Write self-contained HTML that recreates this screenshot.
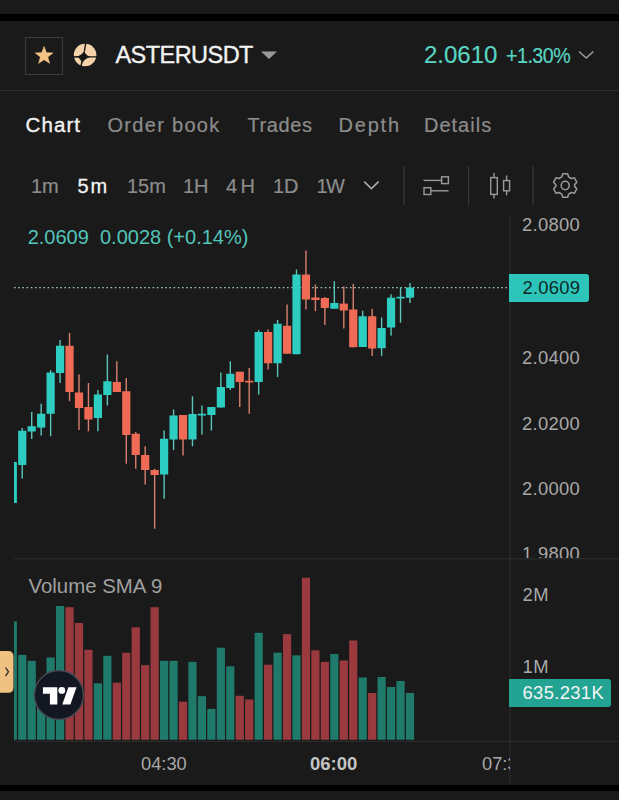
<!DOCTYPE html>
<html><head><meta charset="utf-8">
<style>
*{margin:0;padding:0;box-sizing:border-box}
html,body{width:619px;height:800px;overflow:hidden;background:#1a1a1a}
body{position:relative;font-family:"Liberation Sans",sans-serif;color:#8a8a8a}
.a{position:absolute;white-space:nowrap}
.blk{position:absolute;left:0;width:619px;background:#000}
.hl{position:absolute;height:1px;background:#333}
.vl{position:absolute;width:1px;background:#303030}
.t{position:absolute;white-space:nowrap;line-height:1}
.m{-webkit-text-stroke:0.2px currentColor}
.w{-webkit-text-stroke:0.35px currentColor}
</style></head>
<body>
<div class="blk" style="top:14px;height:7px"></div>

<!-- header -->
<div class="a" style="left:25px;top:37px;width:38px;height:38px;border:1px solid #3c3c3c"></div>
<svg class="a" style="left:0;top:0" width="619" height="90" viewBox="0 0 619 90">
  <!-- star -->
  <path d="M44.10 46.50 L46.40 52.64 L52.94 52.93 L47.81 57.01 L49.57 63.32 L44.10 59.71 L38.63 63.32 L40.39 57.01 L35.26 52.93 L41.80 52.64 Z" fill="#f4c388" stroke="#f4c388" stroke-width="0.6" stroke-linejoin="round"/>
  <!-- logo -->
  <circle cx="85.1" cy="55.05" r="11.25" fill="#f6d3aa"/>
  <path d="M84.4 50.6 Q85.2 55.4 90.2 56.9 Q84.5 58.6 81.8 63.8 Q81.2 58.6 76.4 56.8 Q81.85 55.4 84.4 50.6Z" fill="#161616"/>
  <path d="M85.8 43.2 L84.4 51.2 M81.9 62 L80.8 67 M73.3 57 L78 56.8 M88 56.9 L97 56.9" stroke="#161616" stroke-width="1.4" fill="none"/>
  <!-- dropdown triangle -->
  <path d="M261 51.5 L277 51.5 L269 59 Z" fill="#9a9a9a"/>
  <!-- chevron -->
  <path d="M579 51.5 L586.2 58 L593.4 51.5" stroke="#9a9a9a" stroke-width="1.6" fill="none"/>
</svg>
<div class="t w" id="sym" style="left:115.5px;top:44.3px;font-size:23.5px;letter-spacing:-0.55px;color:#f2f2f2">ASTERUSDT</div>
<div class="t m" id="px" style="left:424px;top:43px;font-size:24px;color:#58d4c2">2.0610</div>
<div class="t m" id="pc" style="left:505.5px;top:44.5px;font-size:22px;letter-spacing:-0.6px;transform:scaleX(0.895);transform-origin:0 0;color:#58d4c2">+1.30%</div>

<div class="hl" style="left:0;top:90px;width:619px;background:#303030"></div>

<!-- tabs -->
<div class="t w" style="left:25.5px;top:114.5px;font-size:20.5px;letter-spacing:1.1px;color:#f2f2f2">Chart</div>
<div class="t m" style="left:107.5px;top:114.6px;font-size:20px;letter-spacing:1.3px;color:#8c8c8c">Order book</div>
<div class="t m" style="left:247.5px;top:114.6px;font-size:20px;letter-spacing:0.6px;color:#8c8c8c">Trades</div>
<div class="t m" style="left:338.5px;top:114.6px;font-size:20px;letter-spacing:1.8px;color:#8c8c8c">Depth</div>
<div class="t m" style="left:424px;top:114.6px;font-size:20px;letter-spacing:1px;color:#8c8c8c">Details</div>

<!-- timeframes -->
<div class="t m" style="left:31px;top:176px;font-size:20px;color:#8c8c8c">1m</div>
<div class="t m" style="left:77.5px;top:176px;font-size:20px;letter-spacing:2px;-webkit-text-stroke:0.3px #f2f2f2;color:#f2f2f2">5m</div>
<div class="t m" style="left:127px;top:176px;font-size:20px;color:#8c8c8c">15m</div>
<div class="t m" style="left:183px;top:176px;font-size:20px;color:#8c8c8c">1H</div>
<div class="t m" style="left:226px;top:176px;font-size:20px;letter-spacing:3.5px;color:#8c8c8c">4H</div>
<div class="t m" style="left:273px;top:176px;font-size:20px;color:#8c8c8c">1D</div>
<div class="t m" style="left:316.5px;top:176px;font-size:20px;letter-spacing:-1.5px;color:#8c8c8c">1W</div>
<svg class="a" style="left:0;top:160px" width="619" height="50" viewBox="0 160 619 50">
  <path d="M364.2 181.6 L371.4 188.6 L378.6 181.6" stroke="#a8a8a8" stroke-width="1.7" fill="none"/>
  <rect x="403.5" y="166.5" width="1.2" height="38.5" fill="#3a3a3a"/>
  <rect x="468" y="166.5" width="1.2" height="38.5" fill="#3a3a3a"/>
  <rect x="532.5" y="166.5" width="1.2" height="38.5" fill="#3a3a3a"/>
  <!-- sliders icon -->
  <g stroke="#9a9a9a" stroke-width="1.4" fill="none">
    <path d="M423.5 180.4 L441.6 180.4"/>
    <rect x="441.6" y="176.8" width="6.8" height="6.8"/>
    <rect x="424" y="187.7" width="6.8" height="6.8"/>
    <path d="M430.8 190.8 L448.6 190.8"/>
    <!-- candles icon -->
    <path d="M494 172.8 L494 177.6 M494 194.4 L494 198.4"/>
    <rect x="490.7" y="177.6" width="6.6" height="16.8"/>
    <path d="M506.6 175.4 L506.6 180.6 M506.6 190.8 L506.6 195.2"/>
    <rect x="503.6" y="180.6" width="6" height="10.2"/>
  </g>
  <!-- gear -->
  <g transform="translate(565.2 185.5) scale(0.95 1)" stroke="#9a9a9a" stroke-width="1.6" fill="none">
    <path d="M-2.6 -11.8 L2.6 -11.8 L3.6 -8.6 L6.4 -7 L9.6 -7.8 L12.2 -3.3 L9.9 -0.9 L9.9 0.9 L12.2 3.3 L9.6 7.8 L6.4 7 L3.6 8.6 L2.6 11.8 L-2.6 11.8 L-3.6 8.6 L-6.4 7 L-9.6 7.8 L-12.2 3.3 L-9.9 0.9 L-9.9 -0.9 L-12.2 -3.3 L-9.6 -7.8 L-6.4 -7 L-3.6 -8.6 Z" stroke-linejoin="round"/>
    <circle cx="0" cy="0" r="4.2"/>
  </g>
</svg>

<!-- chart -->
<svg class="a" style="left:0;top:0" width="619" height="800" viewBox="0 0 619 800">
  <defs><clipPath id="cp"><rect x="14" y="210" width="496" height="530"/></clipPath></defs>
  <rect x="509.5" y="216" width="1" height="568" fill="#2e2e2e"/>
  <rect x="14" y="558.3" width="605" height="1" fill="#2e2e2e"/>
  <rect x="14" y="740.8" width="605" height="1" fill="#2e2e2e"/>
  <line x1="14" y1="287.6" x2="510" y2="287.6" stroke="#9cc6c2" stroke-width="1.1" stroke-dasharray="1.6 2.6"/>
  <g clip-path="url(#cp)">
<rect x="12.09" y="462.00" width="1.4" height="41.00" fill="#5cc4bb"/>
<rect x="8.69" y="462.00" width="8.2" height="41.00" fill="#2dcdc2"/>
<rect x="21.55" y="428.00" width="1.4" height="50.50" fill="#5cc4bb"/>
<rect x="18.15" y="430.75" width="8.2" height="34.25" fill="#2dcdc2"/>
<rect x="31.01" y="412.00" width="1.4" height="27.00" fill="#5cc4bb"/>
<rect x="27.61" y="426.25" width="8.2" height="5.25" fill="#2dcdc2"/>
<rect x="40.46" y="403.75" width="1.4" height="31.85" fill="#5cc4bb"/>
<rect x="37.06" y="413.75" width="8.2" height="13.85" fill="#2dcdc2"/>
<rect x="49.92" y="370.00" width="1.4" height="66.30" fill="#5cc4bb"/>
<rect x="46.52" y="372.50" width="8.2" height="41.25" fill="#2dcdc2"/>
<rect x="59.38" y="340.00" width="1.4" height="43.00" fill="#5cc4bb"/>
<rect x="55.98" y="345.75" width="8.2" height="27.25" fill="#2dcdc2"/>
<rect x="68.84" y="333.00" width="1.4" height="68.25" fill="#d8806f"/>
<rect x="65.44" y="345.75" width="8.2" height="46.25" fill="#f06b55"/>
<rect x="78.29" y="374.50" width="1.4" height="55.50" fill="#d8806f"/>
<rect x="74.89" y="392.50" width="8.2" height="15.50" fill="#f06b55"/>
<rect x="87.75" y="383.00" width="1.4" height="48.25" fill="#d8806f"/>
<rect x="84.35" y="407.00" width="8.2" height="12.50" fill="#f06b55"/>
<rect x="97.21" y="390.00" width="1.4" height="41.25" fill="#5cc4bb"/>
<rect x="93.81" y="394.50" width="8.2" height="23.50" fill="#2dcdc2"/>
<rect x="106.66" y="354.50" width="1.4" height="51.00" fill="#5cc4bb"/>
<rect x="103.26" y="381.25" width="8.2" height="13.75" fill="#2dcdc2"/>
<rect x="116.12" y="361.25" width="1.4" height="30.75" fill="#d8806f"/>
<rect x="112.72" y="382.00" width="8.2" height="10.00" fill="#f06b55"/>
<rect x="125.58" y="378.00" width="1.4" height="85.75" fill="#d8806f"/>
<rect x="122.18" y="391.25" width="8.2" height="43.75" fill="#f06b55"/>
<rect x="135.03" y="432.00" width="1.4" height="36.75" fill="#d8806f"/>
<rect x="131.63" y="433.75" width="8.2" height="21.25" fill="#f06b55"/>
<rect x="144.49" y="446.25" width="1.4" height="38.25" fill="#d8806f"/>
<rect x="141.09" y="455.00" width="8.2" height="15.00" fill="#f06b55"/>
<rect x="153.95" y="468.75" width="1.4" height="60.00" fill="#d8806f"/>
<rect x="150.55" y="470.00" width="8.2" height="5.00" fill="#f06b55"/>
<rect x="163.41" y="430.50" width="1.4" height="68.25" fill="#5cc4bb"/>
<rect x="160.01" y="438.75" width="8.2" height="35.75" fill="#2dcdc2"/>
<rect x="172.86" y="409.50" width="1.4" height="40.50" fill="#5cc4bb"/>
<rect x="169.46" y="415.50" width="8.2" height="24.00" fill="#2dcdc2"/>
<rect x="182.32" y="415.00" width="1.4" height="40.50" fill="#d8806f"/>
<rect x="178.92" y="415.00" width="8.2" height="24.50" fill="#f06b55"/>
<rect x="191.78" y="396.25" width="1.4" height="50.00" fill="#5cc4bb"/>
<rect x="188.38" y="414.00" width="8.2" height="25.50" fill="#2dcdc2"/>
<rect x="201.23" y="405.50" width="1.4" height="29.00" fill="#5cc4bb"/>
<rect x="197.83" y="413.75" width="8.2" height="1.75" fill="#2dcdc2"/>
<rect x="210.69" y="407.00" width="1.4" height="23.50" fill="#5cc4bb"/>
<rect x="207.29" y="407.00" width="8.2" height="8.00" fill="#2dcdc2"/>
<rect x="220.15" y="372.50" width="1.4" height="35.00" fill="#5cc4bb"/>
<rect x="216.75" y="387.00" width="8.2" height="20.50" fill="#2dcdc2"/>
<rect x="229.60" y="361.25" width="1.4" height="28.75" fill="#5cc4bb"/>
<rect x="226.20" y="373.75" width="8.2" height="14.25" fill="#2dcdc2"/>
<rect x="239.06" y="371.75" width="1.4" height="35.25" fill="#d8806f"/>
<rect x="235.66" y="371.75" width="8.2" height="10.25" fill="#f06b55"/>
<rect x="248.52" y="368.00" width="1.4" height="45.75" fill="#d8806f"/>
<rect x="245.12" y="380.75" width="8.2" height="1.75" fill="#f06b55"/>
<rect x="257.98" y="330.00" width="1.4" height="64.50" fill="#5cc4bb"/>
<rect x="254.58" y="332.00" width="8.2" height="50.00" fill="#2dcdc2"/>
<rect x="267.43" y="329.50" width="1.4" height="40.00" fill="#d8806f"/>
<rect x="264.03" y="332.00" width="8.2" height="31.25" fill="#f06b55"/>
<rect x="276.89" y="320.00" width="1.4" height="57.00" fill="#5cc4bb"/>
<rect x="273.49" y="323.75" width="8.2" height="39.50" fill="#2dcdc2"/>
<rect x="286.35" y="304.50" width="1.4" height="49.25" fill="#d8806f"/>
<rect x="282.95" y="325.75" width="8.2" height="28.00" fill="#f06b55"/>
<rect x="295.80" y="269.50" width="1.4" height="84.75" fill="#5cc4bb"/>
<rect x="292.40" y="274.50" width="8.2" height="79.75" fill="#2dcdc2"/>
<rect x="305.26" y="250.50" width="1.4" height="59.00" fill="#d8806f"/>
<rect x="301.86" y="274.50" width="8.2" height="25.00" fill="#f06b55"/>
<rect x="314.72" y="284.50" width="1.4" height="26.75" fill="#d8806f"/>
<rect x="311.32" y="297.50" width="8.2" height="2.50" fill="#f06b55"/>
<rect x="324.17" y="297.00" width="1.4" height="28.00" fill="#d8806f"/>
<rect x="320.77" y="298.00" width="8.2" height="10.00" fill="#f06b55"/>
<rect x="333.63" y="281.25" width="1.4" height="27.50" fill="#5cc4bb"/>
<rect x="330.23" y="303.00" width="8.2" height="5.75" fill="#2dcdc2"/>
<rect x="343.09" y="286.50" width="1.4" height="42.00" fill="#d8806f"/>
<rect x="339.69" y="303.60" width="8.2" height="6.90" fill="#f06b55"/>
<rect x="352.55" y="284.00" width="1.4" height="63.25" fill="#d8806f"/>
<rect x="349.15" y="309.50" width="8.2" height="37.75" fill="#f06b55"/>
<rect x="362.00" y="310.75" width="1.4" height="36.25" fill="#5cc4bb"/>
<rect x="358.60" y="316.25" width="8.2" height="30.75" fill="#2dcdc2"/>
<rect x="371.46" y="309.00" width="1.4" height="47.00" fill="#d8806f"/>
<rect x="368.06" y="316.25" width="8.2" height="32.25" fill="#f06b55"/>
<rect x="380.92" y="317.50" width="1.4" height="38.30" fill="#5cc4bb"/>
<rect x="377.52" y="328.00" width="8.2" height="20.20" fill="#2dcdc2"/>
<rect x="390.37" y="294.40" width="1.4" height="41.20" fill="#5cc4bb"/>
<rect x="386.97" y="297.70" width="8.2" height="29.80" fill="#2dcdc2"/>
<rect x="399.83" y="287.50" width="1.4" height="35.20" fill="#5cc4bb"/>
<rect x="396.43" y="296.80" width="8.2" height="1.70" fill="#2dcdc2"/>
<rect x="409.29" y="283.10" width="1.4" height="19.90" fill="#5cc4bb"/>
<rect x="405.89" y="287.50" width="8.2" height="10.20" fill="#2dcdc2"/>
<rect x="8.69" y="621.40" width="8.2" height="118.35" fill="#1f7a6b"/>
<rect x="18.15" y="654.90" width="8.2" height="84.85" fill="#1f7a6b"/>
<rect x="27.61" y="660.80" width="8.2" height="78.95" fill="#1f7a6b"/>
<rect x="37.06" y="690.00" width="8.2" height="49.75" fill="#1f7a6b"/>
<rect x="46.52" y="657.50" width="8.2" height="82.25" fill="#1f7a6b"/>
<rect x="55.98" y="606.00" width="8.2" height="133.75" fill="#1f7a6b"/>
<rect x="65.44" y="607.20" width="8.2" height="132.55" fill="#9a3a3f"/>
<rect x="74.89" y="623.00" width="8.2" height="116.75" fill="#9a3a3f"/>
<rect x="84.35" y="649.80" width="8.2" height="89.95" fill="#9a3a3f"/>
<rect x="93.81" y="683.30" width="8.2" height="56.45" fill="#1f7a6b"/>
<rect x="103.26" y="655.80" width="8.2" height="83.95" fill="#1f7a6b"/>
<rect x="112.72" y="682.70" width="8.2" height="57.05" fill="#9a3a3f"/>
<rect x="122.18" y="652.70" width="8.2" height="87.05" fill="#9a3a3f"/>
<rect x="131.63" y="627.30" width="8.2" height="112.45" fill="#9a3a3f"/>
<rect x="141.09" y="665.20" width="8.2" height="74.55" fill="#9a3a3f"/>
<rect x="150.55" y="607.20" width="8.2" height="132.55" fill="#9a3a3f"/>
<rect x="160.01" y="660.80" width="8.2" height="78.95" fill="#1f7a6b"/>
<rect x="169.46" y="660.80" width="8.2" height="78.95" fill="#1f7a6b"/>
<rect x="178.92" y="701.70" width="8.2" height="38.05" fill="#9a3a3f"/>
<rect x="188.38" y="661.90" width="8.2" height="77.85" fill="#1f7a6b"/>
<rect x="197.83" y="696.20" width="8.2" height="43.55" fill="#1f7a6b"/>
<rect x="207.29" y="708.90" width="8.2" height="30.85" fill="#1f7a6b"/>
<rect x="216.75" y="647.70" width="8.2" height="92.05" fill="#1f7a6b"/>
<rect x="226.20" y="666.30" width="8.2" height="73.45" fill="#1f7a6b"/>
<rect x="235.66" y="695.80" width="8.2" height="43.95" fill="#9a3a3f"/>
<rect x="245.12" y="699.50" width="8.2" height="40.25" fill="#9a3a3f"/>
<rect x="254.58" y="632.80" width="8.2" height="106.95" fill="#1f7a6b"/>
<rect x="264.03" y="664.70" width="8.2" height="75.05" fill="#9a3a3f"/>
<rect x="273.49" y="652.70" width="8.2" height="87.05" fill="#1f7a6b"/>
<rect x="282.95" y="634.10" width="8.2" height="105.65" fill="#9a3a3f"/>
<rect x="292.40" y="655.30" width="8.2" height="84.45" fill="#1f7a6b"/>
<rect x="301.86" y="577.70" width="8.2" height="162.05" fill="#9a3a3f"/>
<rect x="311.32" y="650.30" width="8.2" height="89.45" fill="#9a3a3f"/>
<rect x="320.77" y="661.90" width="8.2" height="77.85" fill="#9a3a3f"/>
<rect x="330.23" y="654.00" width="8.2" height="85.75" fill="#1f7a6b"/>
<rect x="339.69" y="660.50" width="8.2" height="79.25" fill="#9a3a3f"/>
<rect x="349.15" y="640.50" width="8.2" height="99.25" fill="#9a3a3f"/>
<rect x="358.60" y="677.50" width="8.2" height="62.25" fill="#1f7a6b"/>
<rect x="368.06" y="693.00" width="8.2" height="46.75" fill="#9a3a3f"/>
<rect x="377.52" y="677.00" width="8.2" height="62.75" fill="#1f7a6b"/>
<rect x="386.97" y="687.00" width="8.2" height="52.75" fill="#1f7a6b"/>
<rect x="396.43" y="681.00" width="8.2" height="58.75" fill="#1f7a6b"/>
<rect x="405.89" y="693.00" width="8.2" height="46.75" fill="#1f7a6b"/>
  </g>
  <!-- handle -->
  <path d="M0 651 L8 651 Q13.5 651 13.5 656.5 L13.5 687.3 Q13.5 692.8 8 692.8 L0 692.8 Z" fill="#f0c282"/>
  <path d="M5.5 667.5 L8.5 671.8 L5.5 676" stroke="#2a2a2a" stroke-width="1.3" fill="none"/>
  <!-- TV logo -->
  <circle cx="58.9" cy="695" r="24.5" fill="#131722" stroke="#474a55" stroke-width="1.3"/>
  <path d="M42.9 687.2 H57.3 V704.6 H49.9 V693.7 H42.9 Z" fill="#fff"/>
  <circle cx="61.8" cy="690.4" r="3.4" fill="#fff"/>
  <path d="M68.4 687.2 H76.5 L70.4 704.6 H62.3 Z" fill="#fff"/>
</svg>

<!-- legend -->
<div class="t" style="left:27.7px;top:227px;font-size:20px;color:#52c4b8">2.0609&nbsp;&nbsp;0.0028 (+0.14%)</div>

<!-- price axis -->
<div class="t" style="left:522px;top:216px;font-size:18.4px;letter-spacing:0.3px;color:#a8a8a8">2.0800</div>
<div class="t" style="left:522px;top:349px;font-size:18.4px;letter-spacing:0.3px;color:#a8a8a8">2.0400</div>
<div class="t" style="left:522px;top:415px;font-size:18.4px;letter-spacing:0.3px;color:#a8a8a8">2.0200</div>
<div class="t" style="left:522px;top:480px;font-size:18.4px;letter-spacing:0.3px;color:#a8a8a8">2.0000</div>
<div class="a" style="left:510px;top:545px;width:109px;height:13px;overflow:hidden"><div class="t" style="left:12px;top:0px;font-size:18.4px;letter-spacing:0.3px;color:#a8a8a8">1.9800</div></div>
<div class="a" style="left:509px;top:274px;width:80px;height:27.6px;background:#2dc5b9;border-radius:0 3px 3px 0"></div>
<div class="t" style="left:522.5px;top:279px;font-size:18.4px;letter-spacing:0.25px;color:#0f2a28">2.0609</div>

<!-- volume -->
<div class="t" style="left:28.5px;top:576px;font-size:20.4px;color:#a0a0a0">Volume SMA 9</div>
<div class="t" style="left:522.5px;top:585.8px;font-size:18.4px;letter-spacing:0.6px;color:#a8a8a8">2M</div>
<div class="t" style="left:522.5px;top:657.7px;font-size:18.4px;letter-spacing:0.6px;color:#a8a8a8">1M</div>
<div class="a" style="left:509px;top:679px;width:102px;height:28px;background:#23a392;border-radius:0 3px 3px 0"></div>
<div class="t" style="left:522.5px;top:683.5px;font-size:18.4px;letter-spacing:0.35px;color:#f4f4f4">635.231K</div>

<!-- time axis -->
<div class="t" style="left:141px;top:755px;font-size:18.3px;color:#a8a8a8">04:30</div>
<div class="t" style="left:310px;top:755px;font-size:18.5px;color:#c4c4c4;font-weight:bold">06:00</div>
<div class="a" style="left:480px;top:750px;width:30px;height:30px;overflow:hidden"><div class="t" style="left:2px;top:5px;font-size:18.3px;color:#a8a8a8">07:30</div></div>

<div class="blk" style="top:784.5px;height:6.2px"></div>
</body></html>
